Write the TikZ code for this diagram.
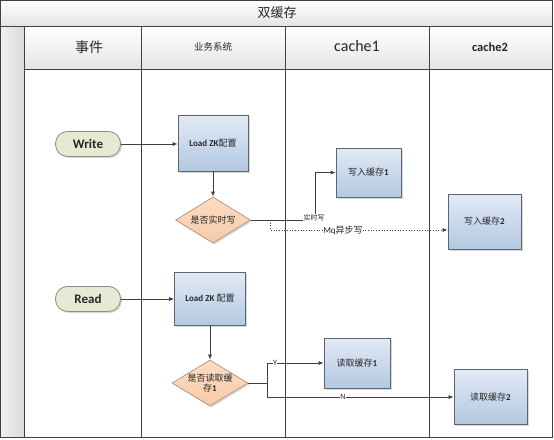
\documentclass[tikz,border=0pt]{standalone}
\usepackage{fontspec}
\setmainfont{Carlito}
\newfontfamily\cjk{Noto Sans CJK SC}
\usetikzlibrary{shapes.geometric,arrows.meta,shadows}
\definecolor{lanec}{HTML}{404040}
\definecolor{boxtop}{HTML}{E2EAF5}
\definecolor{boxbot}{HTML}{B3C8E2}
\definecolor{boxline}{HTML}{5B6670}
\definecolor{termfill}{HTML}{E6E9D4}
\definecolor{termline}{HTML}{8A8E7C}
\definecolor{dectop}{HTML}{FCDCC2}
\definecolor{decbot}{HTML}{F7CBA8}
\definecolor{decline}{HTML}{A89584}
\definecolor{txt}{HTML}{262626}
\begin{document}
\begin{tikzpicture}[x=1pt,y=-1pt,
  lane/.style={draw=lanec,line width=0.8pt},
  proc/.style={draw=boxline,line width=0.7pt,top color=boxtop,bottom color=boxbot,
    minimum width=#1,inner sep=1pt,text=txt,align=center,
    drop shadow={shadow xshift=1.5pt,shadow yshift=-1.5pt,opacity=0.3}},
  term/.style={draw=termline,line width=0.8pt,fill=termfill,rounded corners=12pt,
    minimum width=65pt,minimum height=25pt,inner sep=0pt,text=txt,
    font=\bfseries\fontsize{13}{13}\selectfont,
    drop shadow={shadow xshift=1.5pt,shadow yshift=-1.5pt,opacity=0.3}},
  dec/.style={diamond,draw=decline,line width=0.7pt,top color=dectop,bottom color=decbot,
    aspect=1.65,inner sep=0pt,minimum width=75pt,minimum height=46pt,text=txt,align=center,
    font=\cjk\fontsize{9}{10.5}\selectfont,
    drop shadow={shadow xshift=1.5pt,shadow yshift=-1.5pt,opacity=0.3}},
  arr/.style={draw=lanec,line width=0.7pt,-{Latex[length=5pt,width=4pt]}},
  elab/.style={fill=white,inner sep=0.5pt,text=txt},
]
\useasboundingbox (0,0) rectangle (554,439);
% title band
\fill[top color=white,bottom color=gray!22] (0.5,0.5) rectangle (552,26);
\node[font=\cjk\fontsize{13}{13}\selectfont,text=txt] (title) at (277,13) {双缓存};
% left strip
\fill[left color=gray!12,right color=gray!28] (0.5,26) rectangle (24,437);
% header row
\fill[top color=white,bottom color=gray!20] (24,26) rectangle (552,69);
\draw[lane] (0.5,0.5) rectangle (552,437);
\draw[lane] (0.5,26) -- (552,26);
\draw[lane] (24,69) -- (552,69);
\foreach \xx in {24,141,285,429} \draw[lane] (\xx,26) -- (\xx,437);
\node[font=\cjk\fontsize{14}{14}\selectfont,text=txt] (h1) at (89,47) {事件};
\node[font=\cjk\fontsize{9.5}{10}\selectfont,text=txt] (h2) at (213,47) {业务系统};
\node[font=\fontsize{16}{16}\selectfont,text=txt] (h3) at (357,46) {cache1};
\node[font=\bfseries\fontsize{12.5}{13}\selectfont,text=txt] (h4) at (490,47) {cache2};
% nodes
\node[term] (write) at (88,144) {Write};
\node[term] (read) at (88,299) {Read};
\node[proc=70pt,minimum height=56pt] (load1) at (213,143) {\bfseries\fontsize{9}{10}\selectfont Load ZK{\cjk\mdseries 配置}};
\node[dec] (dec1) at (213,220) {是否实时写};
\node[proc=65pt,minimum height=49pt] (w1) at (368.5,172.5) {{\cjk\fontsize{9}{10}\selectfont 写入缓存}{\bfseries\fontsize{9}{10}\selectfont 1}};
\node[proc=73pt,minimum height=55pt] (w2) at (484.5,221.5) {{\cjk\fontsize{9}{10}\selectfont 写入缓存}{\bfseries\fontsize{9}{10}\selectfont 2}};
\node[proc=71pt,minimum height=53pt] (load2) at (210,298.5) {\bfseries\fontsize{9}{10}\selectfont Load ZK {\cjk\mdseries 配置}};
\node[dec] (dec2) at (210,383) {是否读取缓\\存{\fontspec{Carlito}\bfseries 1}};
\node[proc=66pt,minimum height=50pt] (r1) at (357,363) {{\cjk\fontsize{9}{10}\selectfont 读取缓存}{\bfseries\fontsize{9}{10}\selectfont 1}};
\node[proc=73pt,minimum height=55pt] (r2) at (490.5,397) {{\cjk\fontsize{9}{10}\selectfont 读取缓存}{\bfseries\fontsize{9}{10}\selectfont 2}};
% coordinates
\coordinate (c1) at (315,220);
\coordinate (d1) at (270,220);
\coordinate (mq) at (343,230);
\coordinate (j) at (267,383);
\coordinate (ylab) at (275,363);
\coordinate (nlab) at (343,397);
% connectors
\draw[arr] (write.east) -- (write.east -| load1.west);
\draw[arr] (load1.south) -- (dec1.north);
\draw[arr] (dec1.east) -- (c1) |- (w1.west);
\node[elab,font=\cjk\fontsize{7}{7}\selectfont] (l1) at (314,218) {实时写};
\draw[arr,dotted] (d1) |- (mq) -- (mq -| w2.west);
\node[elab,font=\fontsize{9}{9}\selectfont] (l2) at (mq) {Mq{\cjk 异步写}};
\draw[arr] (read.east) -- (read.east -| load2.west);
\draw[arr] (load2.south) -- (dec2.north);
\draw[lane,line width=0.7pt] (dec2.east) -- (j);
\draw[arr] (j) |- (r1.west);
\draw[arr] (j) |- (r2.west);
\node[elab,font=\fontsize{8}{8}\selectfont] (ly) at (ylab) {Y};
\node[elab,font=\fontsize{8}{8}\selectfont] (ln) at (nlab) {N};
\end{tikzpicture}
\end{document}
